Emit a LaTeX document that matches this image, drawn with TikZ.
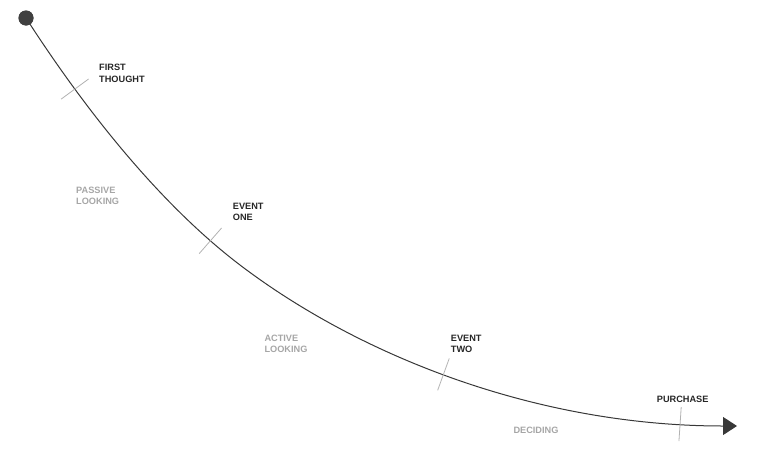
\documentclass[tikz,border=0pt]{standalone}
\usepackage{fontspec}
\setmainfont{Liberation Sans}
\usetikzlibrary{arrows.meta}

\begin{document}
\begin{tikzpicture}[x=1pt,y=-1pt]

\tikzset{StartStyle/.style = {circle, fill=black!75, minimum size=15pt, inner sep=0pt},
         PathStyle/.style  = {draw=black!78, line width=1pt, -{Triangle[length=14pt,width=18pt]}},
         TickStyle/.style  = {sloped, draw=black!30, line width=.8pt, minimum width=0pt,
                              minimum height=34pt, inner sep=0pt},
         EventStyle/.style = {font=\fontsize{9.2}{11.3}\selectfont\bfseries, text=black!85,
                              align=left, inner sep=0pt, anchor=north west},
         PhaseStyle/.style = {EventStyle, text=black!35}}

\useasboundingbox (0,0) rectangle (768,461);

\node[StartStyle] (start) at (26,18) {};
\coordinate (bend) at (240,265);
\coordinate (finish) at (737,426);

\draw[PathStyle] (start.center) .. controls (96,126.5) and (170,211.8) .. (bend)
      node[pos=.23,TickStyle] (tick1) {}
      node[pos=.86,TickStyle] (tick2) {}
   .. controls (360,356.2) and (537,426) .. (finish)
      node[pos=.47,TickStyle] (tick3) {}
      node[pos=.904,TickStyle] (tick4) {};

\node[StartStyle] at (start) {};

% events
\node[EventStyle] (first) at (99,64.3) {FIRST\\THOUGHT};
\node[EventStyle] (one) at (232.7,202.7) {EVENT\\ONE};
\node[EventStyle] (two) at (450.7,335) {EVENT\\TWO};
\node[EventStyle,anchor=north] (purchase) at (682.7,395.7) {PURCHASE};

% phases
\node[PhaseStyle] (passive) at (76,186.7) {PASSIVE\\LOOKING};
\node[PhaseStyle] (active) at (264.3,335) {ACTIVE\\LOOKING};
\node[PhaseStyle] (deciding) at (513.3,426.7) {DECIDING};

\end{tikzpicture}
\end{document}
